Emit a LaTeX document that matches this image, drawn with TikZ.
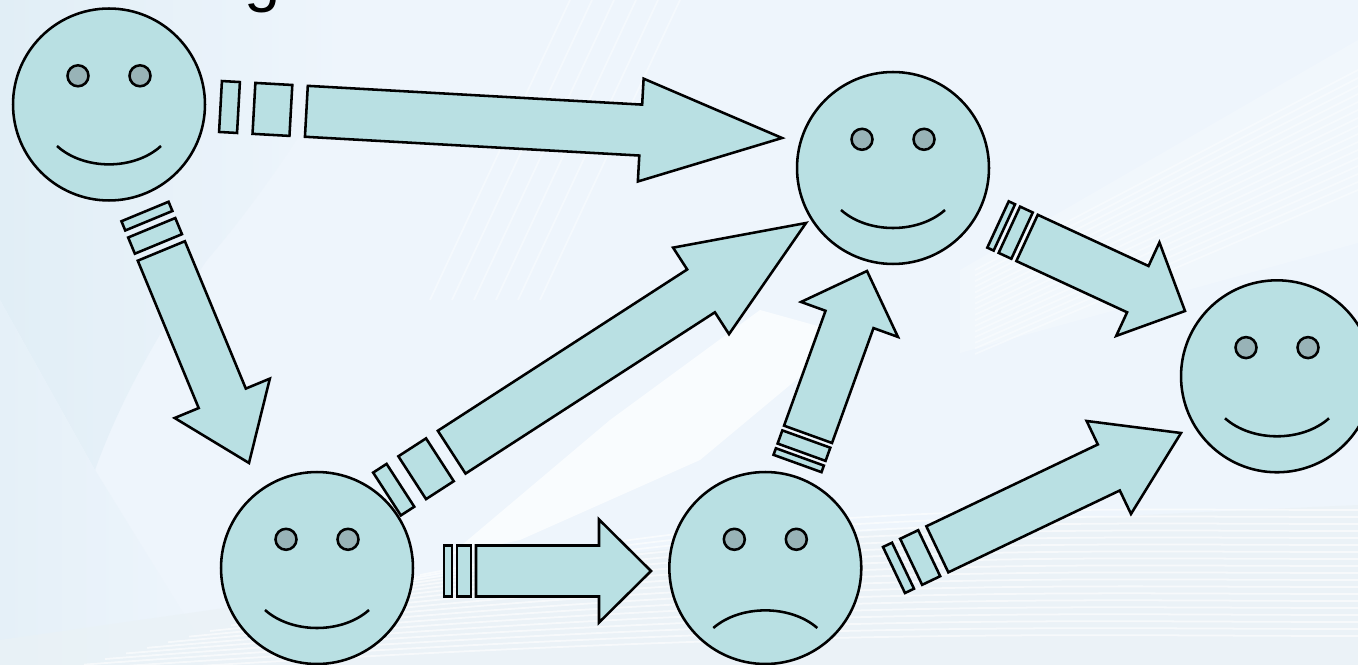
\documentclass[tikz,border=0pt]{standalone}
\usepackage{fontspec}
\setmainfont{Liberation Sans}
\usetikzlibrary{calc}

\definecolor{facefill}{RGB}{185,224,227}
\definecolor{eyefill}{RGB}{152,179,183}
\definecolor{paleback}{RGB}{238,245,252}
\definecolor{leftback}{RGB}{225,238,246}
\definecolor{bandback}{RGB}{234,242,246}

\tikzset{
  outline/.style={draw=black,line width=1.45pt,line join=miter},
  facebody/.style={outline,circle,fill=facefill,minimum size=3.84cm,inner sep=0pt},
  faceeye/.style={draw=black,line width=1.45pt,circle,fill=eyefill,minimum size=0.42cm,inner sep=0pt},
  blockpart/.style={outline,fill=facefill},
  wavelight/.style={white,line width=1pt,opacity=0.6}
}

% #1 name, #2 place, #3 end height of the mouth, #4 control height
\newcommand{\facenode}[4]{
  \node[facebody] (#1) at (#2) {};
  \node[faceeye] (#1eyeleft) at ($(#1)+(-31,-28.7)$) {};
  \node[faceeye] (#1eyeright) at ($(#1)+(31,-28.7)$) {};
  \draw[line width=1.45pt] ($(#1)+(-52,#3)$) .. controls ($(#1)+(-25,#4)$) and ($(#1)+(25,#4)$) .. ($(#1)+(52,#3)$);
}

% #1 tail, #2 tip, #3 thin stripe, #4 gap, #5 wide stripe, #6 head length
\newcommand{\stripedarrow}[6]{
  \pgfmathanglebetweenpoints{\pgfpointanchor{#1}{center}}{\pgfpointanchor{#2}{center}}
  \let\arrowangle\pgfmathresult
  \pgfmathsetmacro{\stripeb}{#3+#4}
  \pgfmathsetmacro{\stripec}{#3+#4+#5}
  \pgfmathsetmacro{\stripes}{#3+#4+#5+#4}
  \begin{scope}[shift={(#1)},rotate=\arrowangle]
    \draw[blockpart] (0,-25.5) rectangle (#3,25.5);
    \draw[blockpart] (\stripeb,-25.5) rectangle (\stripec,25.5);
    \coordinate (shaftup) at (\stripes,-25.5);
    \coordinate (shaftdown) at (\stripes,25.5);
  \end{scope}
  \begin{scope}[shift={(#2)},rotate=\arrowangle]
    \draw[blockpart] (shaftup) -- (-#6,-25.5) -- (-#6,-51.5) -- (0,0) -- (-#6,51.5) -- (-#6,25.5) -- (shaftdown) -- cycle;
  \end{scope}
}

\begin{document}
\begin{tikzpicture}[x=0.02cm,y=-0.02cm]
\useasboundingbox (0,0) rectangle (1358,665);

% background
\fill[paleback] (0,0) rectangle (1358,665);
\shade[left color=leftback,right color=paleback] (0,0) -- (345,0) -- (340,67) .. controls (300,140) and (250,210) .. (207,260) .. controls (160,330) and (120,400) .. (95,470) -- (0,300) -- cycle;
\shade[left color=leftback!70!paleback,right color=paleback] (0,300) -- (95,470) -- (215,665) -- (0,665) -- cycle;
\fill[white,opacity=0.7] (450,555) -- (610,420) -- (760,310) -- (850,335) -- (700,460) -- (520,540) -- cycle;
\fill[bandback,opacity=0.7] (0,640) -- (420,580) .. controls (700,540) and (900,525) .. (1358,505) -- (1358,665) -- (0,665) -- cycle;
\fill[white,opacity=0.2] (960,270) -- (1358,40) -- (1358,243) -- (960,353) -- cycle;
\foreach \wave in {0,7,...,130}
  \draw[wavelight] ({420-3*\wave},{575+\wave*0.8}) .. controls (800,{500+\wave}) and (1050,{510+\wave}) .. (1358,{510+\wave});
\foreach \wave in {0,8,...,120}
  \draw[wavelight,opacity=0.4] (975,{270+\wave*0.7}) -- (1358,{70+\wave});
\foreach \wave in {0,22,...,110}
  \draw[wavelight,opacity=0.4] ({430+\wave},300) -- ({570+\wave},0);

\node[anchor=base west,font=\fontsize{37pt}{37pt}\selectfont,inner sep=0pt] (cuttext) at (244,0) {g\hspace{0.72em}\raisebox{0.13em}{,}};

\facenode{tl}{109,104.5}{41.5}{66}
\facenode{tr}{893,168}{42}{66}
\facenode{rr}{1277,376.3}{42}{66}
\facenode{bl}{317,568}{42}{66}
\facenode{bm}{765.3,568}{60}{36.5}

\coordinate (tlright) at (220.5,106.5);
\coordinate (trleft) at (782,138);
\coordinate (tlbelow) at (145,211.5);
\coordinate (blabove) at (249,463);
\coordinate (blupper) at (387,494);
\coordinate (trlower) at (806,223);
\coordinate (blright) at (444,571);
\coordinate (bmleft) at (651,571);
\coordinate (bmabove) at (797.5,463.5);
\coordinate (trbelow) at (867,271);
\coordinate (bmright) at (894,570);
\coordinate (rrlower) at (1181,433);
\coordinate (trright) at (998,224.5);
\coordinate (rrupper) at (1185,311);

\stripedarrow{tlright}{trleft}{18}{15.5}{37}{141.5}
\stripedarrow{tlbelow}{blabove}{10}{7.6}{17.5}{70}
\stripedarrow{blupper}{trlower}{16}{14}{33}{125}
\stripedarrow{blright}{bmleft}{8}{5}{14}{52}
\stripedarrow{bmabove}{trbelow}{7}{5}{14}{51.5}
\stripedarrow{bmright}{rrlower}{10}{9}{20}{80}
\stripedarrow{trright}{rrupper}{7}{5.5}{14}{52}
\end{tikzpicture}
\end{document}
